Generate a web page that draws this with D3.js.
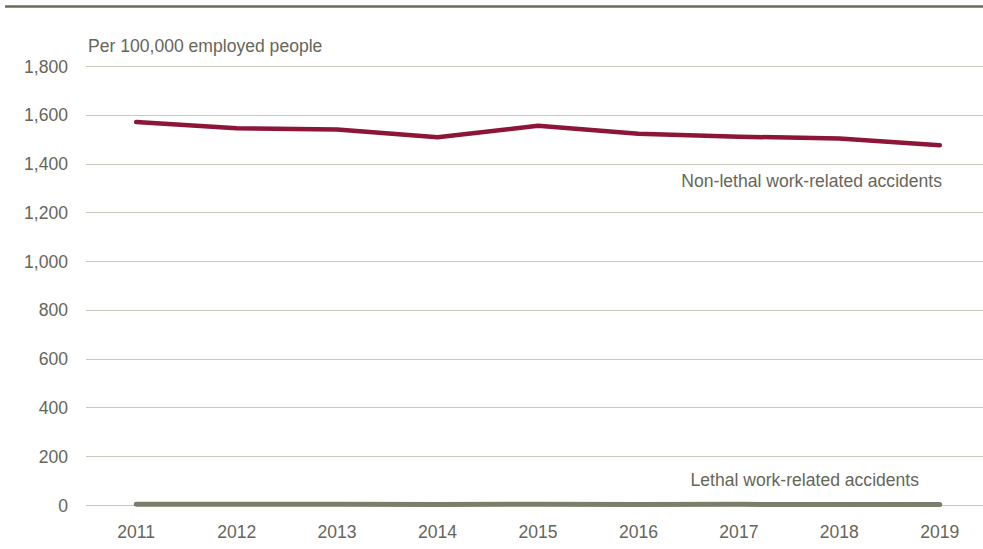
<!DOCTYPE html>
<html><head><meta charset="utf-8">
<script src="https://cdn.jsdelivr.net/npm/d3@7"></script>
<style>
body{margin:0;background:#fff;}
svg text{font-family:"Liberation Sans Narrow","Arial Narrow","Liberation Sans",Arial,sans-serif;}
</style></head>
<body><svg id="c" width="983" height="549"></svg>
<script>
const years = [2011,2012,2013,2014,2015,2016,2017,2018,2019];
const nonLethal = [1570,1545,1540,1508,1555,1522,1510,1503,1475];
const lethal = [3.3,3.0,2.8,2.5,2.6,2.5,2.6,2.3,2.4];
const yTicks = [0,200,400,600,800,1000,1200,1400,1600,1800];
const unitLabel = "Per 100,000 employed people";
const seriesLabels = ["Non-lethal work-related accidents","Lethal work-related accidents"];

const svg = d3.select("#c");
const txt = "#66665a";
const FS = 18.5, SX = 0.95;
const x = d3.scalePoint().domain(years).range([86,990]).padding(0.5);
const y = d3.scaleLinear().domain([0,1800]).range([505,66]);
const tf = (px,py)=>`translate(${px},${py}) scale(${SX},1)`;

// top rule
svg.append("line").attr("x1",5).attr("x2",983).attr("y1",6.5).attr("y2",6.5)
  .attr("stroke","#6b6b58").attr("stroke-width",2.5);

// gridlines
svg.append("g").selectAll("line").data(yTicks).join("line")
  .attr("x1",86).attr("x2",983).attr("y1",d=>Math.round(y(d))+0.5).attr("y2",d=>Math.round(y(d))+0.5)
  .attr("stroke","#c8c8bc").attr("stroke-width",1.2);

// y labels
svg.append("g").selectAll("text").data(yTicks).join("text")
  .attr("transform",d=>tf(68,y(d)+6.5)).attr("text-anchor","end")
  .attr("font-size",FS).attr("fill",txt).text(d=>d3.format(",")(d));

// x labels
svg.append("g").selectAll("text").data(years).join("text")
  .attr("transform",d=>tf(x(d),538)).attr("text-anchor","middle")
  .attr("font-size",FS).attr("fill",txt).text(d=>d);

svg.append("text").attr("transform",tf(88,52)).attr("font-size",FS).attr("fill",txt).text(unitLabel);

const line = d3.line().x((d,i)=>x(years[i])).y(d=>y(d));
svg.append("path").datum(lethal).attr("d",line).attr("fill","none")
  .attr("stroke","#7d7d6c").attr("stroke-width",5).attr("stroke-linecap","round");
svg.append("path").datum(nonLethal).attr("d",line).attr("fill","none")
  .attr("stroke","#8c1538").attr("stroke-width",4.5).attr("stroke-linecap","round").attr("stroke-linejoin","round");

svg.append("text").attr("transform",tf(942,187)).attr("text-anchor","end").attr("font-size",FS).attr("fill",txt).text(seriesLabels[0]);
svg.append("text").attr("transform",tf(919,486)).attr("text-anchor","end").attr("font-size",FS).attr("fill",txt).text(seriesLabels[1]);
</script></body></html>
